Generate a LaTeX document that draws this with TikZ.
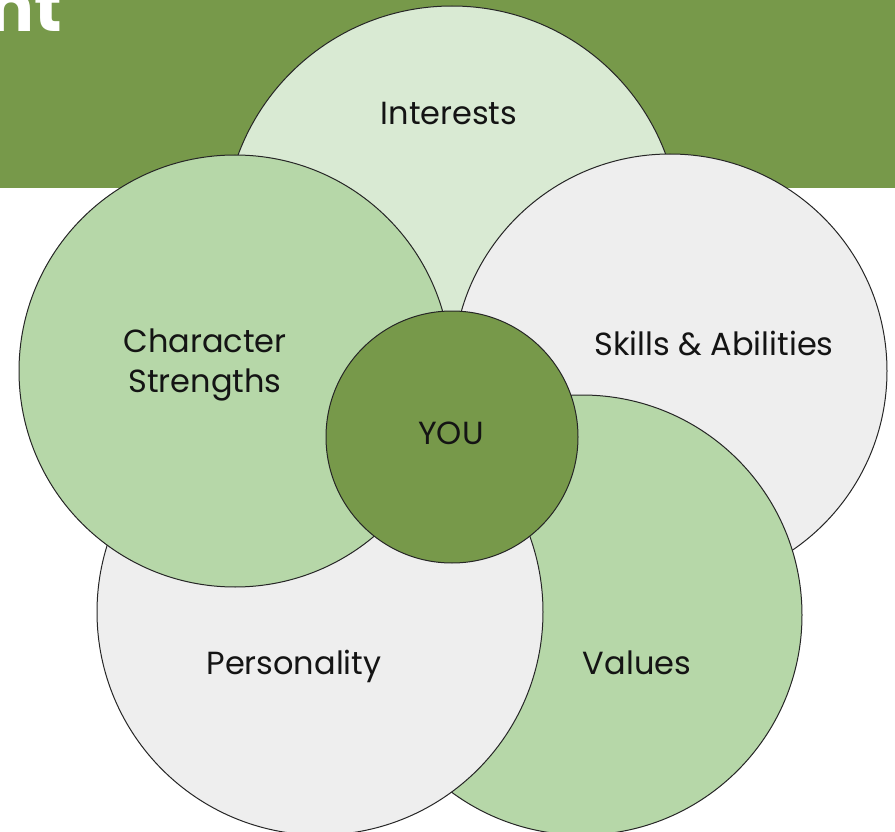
\documentclass[tikz,border=0pt]{standalone}
\usepackage{fontspec}
\setmainfont{Poppins}
\definecolor{bannergreen}{HTML}{77994A}
\definecolor{palegreen}{HTML}{D9EAD3}
\definecolor{midgreen}{HTML}{B6D7A8}
\definecolor{palegrey}{HTML}{EEEEEE}
\definecolor{ink}{HTML}{141414}
\begin{document}
\begin{tikzpicture}[x=1pt,y=-1pt,
  bubble/.style={circle, draw=black!85, line width=1pt, inner sep=0pt, outer sep=0pt},
  lbl/.style={font=\fontsize{32}{40}\selectfont, text=ink, inner sep=0pt, anchor=base}]
\useasboundingbox (0,0) rectangle (895,832);
\clip (0,0) rectangle (895,832);
\fill[bannergreen] (0,0) rectangle (895,188);
\node[font=\fontsize{68}{68}\selectfont\bfseries, text=white, anchor=base east, inner sep=0pt] (title) at (62,32) {nt};
% circles, back to front
\node[bubble, fill=palegreen, minimum size=456pt] (interests) at (452,234) {};
\node[bubble, fill=palegrey, minimum size=434pt] (skills) at (670,371) {};
\node[bubble, fill=midgreen, minimum size=440pt] (values) at (582,615) {};
\node[bubble, fill=palegrey, minimum size=446pt] (personality) at (320,612) {};
\node[bubble, fill=midgreen, minimum size=432pt] (character) at (235,371) {};
\node[bubble, fill=bannergreen, minimum size=252pt] (you) at (452,437) {};
% labels
\node[lbl] (tInterests) at (449,125) {Interests};
\node[lbl] (tSkills) at (714,355) {Skills \& Abilities};
\node[lbl, align=center] (tCharacter) at (205,392) {Character\\Strengths};
\node[lbl] (tPersonality) at (294,674) {Personality};
\node[lbl] (tValues) at (637,674) {Values};
\node[lbl] (tYou) at (451,444) {YOU};
\end{tikzpicture}
\end{document}
